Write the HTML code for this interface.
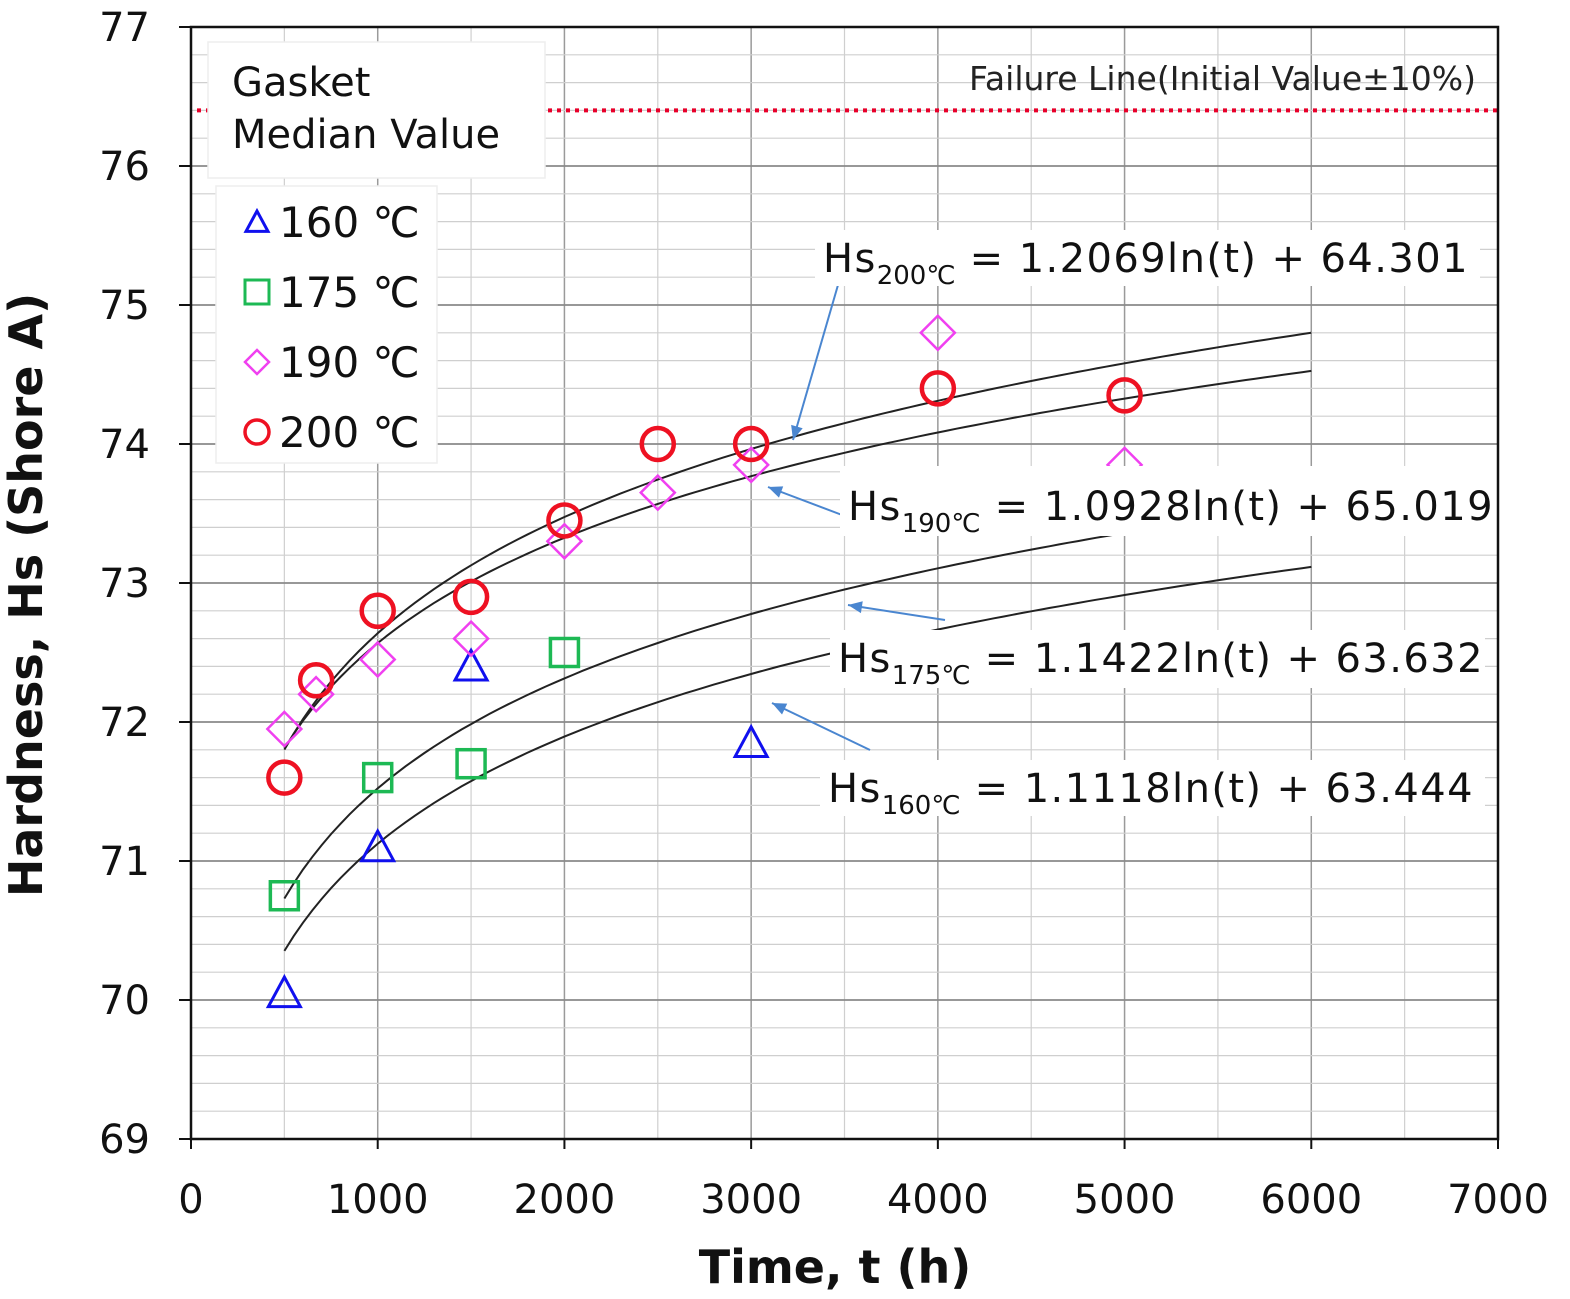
<!DOCTYPE html>
<html><head><meta charset="utf-8"><style>
html,body{margin:0;padding:0;background:#fff;}
svg{display:block;font-family:"DejaVu Sans","Liberation Sans",sans-serif;}
</style></head><body>
<svg id="chart" width="1570" height="1299" viewBox="0 0 1570 1299" xmlns="http://www.w3.org/2000/svg">
<g id="grid"></g>
<g id="curves"></g>
<g id="marks"></g>
<g id="overlay"></g>
<g id="axes"></g>
</svg>
<script>
const xTicks=[0,1000,2000,3000,4000,5000,6000,7000];
const yTicks=[69,70,71,72,73,74,75,76,77];
const t160=[500,1000,1500,3000];
const h160=[70.05,71.1,72.4,71.85];
const t175=[500,1000,1500,2000];
const h175=[70.75,71.6,71.7,72.5];
const t190=[500,670,1000,1500,2000,2500,3000,4000,5000];
const h190=[71.95,72.2,72.45,72.6,73.3,73.65,73.85,74.8,73.85];
const t200=[500,670,1000,1500,2000,2500,3000,4000,5000];
const h200=[71.6,72.3,72.8,72.9,73.45,74.0,74.0,74.4,74.35];
const fitA=[1.1118,1.1422,1.0928,1.2069];
const fitB=[63.444,63.632,65.019,64.301];
const failureValue=76.4;

const NS="http://www.w3.org/2000/svg";
const X0=191,X1=1498,Y0=1139,Y1=27;
const xs=v=>X0+(v-0)/(7000)*(X1-X0);
const ys=v=>Y0-(v-69)/8*(Y0-Y1);
function mk(tag,attrs,parent){const e=document.createElementNS(NS,tag);for(const k in attrs)e.setAttribute(k,attrs[k]);parent.appendChild(e);return e;}
const grid=document.getElementById('grid'),curves=document.getElementById('curves'),marks=document.getElementById('marks'),overlay=document.getElementById('overlay'),axes=document.getElementById('axes');

for(let v=500;v<7000;v+=500){const major=v%1000===0;const l=mk('line',{x1:xs(v),x2:xs(v),y1:Y1,y2:Y0,stroke:major?'#9a9a9a':'#cfcfcf','stroke-width':major?1.5:1.2},grid);
}
for(let i=1;i<40;i++){const v=69+i*0.2;const major=i%5===0;const l=mk('line',{x1:X0,x2:X1,y1:ys(v),y2:ys(v),stroke:major?'#8a8a8a':'#cfcfcf','stroke-width':major?1.8:1.2},grid);
}

const fl=mk('line',{x1:197,x2:X1,y1:ys(failureValue),y2:ys(failureValue),stroke:'#e8002a','stroke-width':4,'stroke-dasharray':'4 5'},grid);


for(let s=0;s<4;s++){let d='';for(let t=500;t<=6000;t+=50){const h=fitA[s]*Math.log(t)+fitB[s];d+=(t===500?'M':'L')+xs(t).toFixed(1)+','+ys(h).toFixed(1);}
const p=mk('path',{d:d,fill:'none',stroke:'#222','stroke-width':2},curves);
}

function tri(x,y,g){const r=16;return mk('polygon',{points:`${x},${y-r} ${x-r},${y+r*0.85} ${x+r},${y+r*0.85}`,fill:'none',stroke:'#1010ee','stroke-width':3},g);}
function sq(x,y,g){return mk('rect',{x:x-14,y:y-14,width:28,height:28,fill:'none',stroke:'#1db954','stroke-width':3.5},g);}
function dia(x,y,g){const r=17;return mk('polygon',{points:`${x},${y-r} ${x+r},${y} ${x},${y+r} ${x-r},${y}`,fill:'none',stroke:'#f040f0','stroke-width':2.5},g);}
function cir(x,y,g){return mk('circle',{cx:x,cy:y,r:16,fill:'none',stroke:'#ee1122','stroke-width':4.5},g);}
t160.forEach((t,i)=>{const e=tri(xs(t),ys(h160[i]),marks);});
t175.forEach((t,i)=>{const e=sq(xs(t),ys(h175[i]),marks);});
t190.forEach((t,i)=>{const e=dia(xs(t),ys(h190[i]),marks);});
t200.forEach((t,i)=>{const e=cir(xs(t),ys(h200[i]),marks);});

const arrows=[[838,285,793,440],[850,518,768,487],[945,620,848,605],[870,750,772,703]];
arrows.forEach(a=>{const l=mk('line',{x1:a[0],y1:a[1],x2:a[2],y2:a[3],stroke:'#4a86d0','stroke-width':2},overlay);

const ang=Math.atan2(a[3]-a[1],a[2]-a[0]);const L=14,W=6;
const bx=a[2]-L*Math.cos(ang),by=a[3]-L*Math.sin(ang);
const h=mk('polygon',{points:`${a[2]},${a[3]} ${bx-W*Math.sin(ang)},${by+W*Math.cos(ang)} ${bx+W*Math.sin(ang)},${by-W*Math.cos(ang)}`,fill:'#4a86d0'},overlay);
});
const labels=[['200',1.2069,64.301,815,230,665,56,42],['190',1.0928,65.019,840,466,665,70,54],['175',1.1422,63.632,830,630,655,58,42],['160',1.1118,63.444,820,760,665,56,42]];
labels.forEach(L=>{const b=mk('rect',{x:L[3],y:L[4],width:L[5],height:L[6],fill:'#fff'},overlay);
const t=mk('text',{x:L[3]+8,y:L[4]+L[7],'font-size':40,fill:'#111','letter-spacing':'1.4'},overlay);
t.innerHTML=`Hs<tspan font-size="26" dy="12" letter-spacing="0">${L[0]}℃</tspan><tspan dy="-12"> = ${L[1].toFixed(4)}ln(t) + ${L[2].toFixed(3)}</tspan>`;});
const ft=mk('text',{x:1476,y:90,'font-size':33,'text-anchor':'end',fill:'#222'},overlay);ft.textContent='Failure Line(Initial Value±10%)';


const lg1=mk('rect',{x:208,y:42,width:337,height:136,fill:'#fff',stroke:'#eee','stroke-width':1.5},overlay);
const lt1=mk('text',{x:232,y:96,'font-size':40,fill:'#111'},overlay);lt1.textContent='Gasket';
const lt2=mk('text',{x:232,y:148,'font-size':40,fill:'#111'},overlay);lt2.textContent='Median Value';
const lg2=mk('rect',{x:216,y:186,width:221,height:277,fill:'#fff',stroke:'#eee','stroke-width':1.5},overlay);
const lgNames=['160','175','190','200'];const lgF=[(x,y,g)=>{const r=11;return mk('polygon',{points:`${x},${y-r} ${x-r},${y+r*0.85} ${x+r},${y+r*0.85}`,fill:'none',stroke:'#1010ee','stroke-width':3},g);},
(x,y,g)=>mk('rect',{x:x-12,y:y-12,width:24,height:24,fill:'none',stroke:'#1db954','stroke-width':3},g),
(x,y,g)=>mk('polygon',{points:`${x},${y-12} ${x+12},${y} ${x},${y+12} ${x-12},${y}`,fill:'none',stroke:'#f040f0','stroke-width':2.5},g),
(x,y,g)=>mk('circle',{cx:x,cy:y,r:12,fill:'none',stroke:'#ee1122','stroke-width':3.5},g)];
lgNames.forEach((n,i)=>{const y=222+i*70;const m=lgF[i](257,y,overlay);
const t=mk('text',{x:279,y:y+15,'font-size':42,fill:'#111'},overlay);t.textContent=n+' ℃';});

const fr=mk('rect',{x:X0,y:Y1,width:X1-X0,height:Y0-Y1,fill:'none',stroke:'#111','stroke-width':2.5},axes);
xTicks.forEach(v=>{const tk=mk('line',{x1:xs(v),x2:xs(v),y1:Y0,y2:Y0+10,stroke:'#111','stroke-width':2},axes);
const t=mk('text',{x:xs(v),y:1213,'font-size':40,'text-anchor':'middle',fill:'#111'},axes);t.textContent=v;});
yTicks.forEach(v=>{const tk=mk('line',{x1:X0-12,x2:X0,y1:ys(v),y2:ys(v),stroke:'#111','stroke-width':2},axes);
const t=mk('text',{x:150,y:ys(v)+14,'font-size':40,'text-anchor':'end',fill:'#111'},axes);t.textContent=v;});
const xt=mk('text',{x:835,y:1283,'font-size':46,'font-weight':'bold','text-anchor':'middle',fill:'#111'},axes);xt.textContent='Time, t (h)';
const yt=mk('text',{x:0,y:0,'font-size':46,'font-weight':'bold','text-anchor':'middle',fill:'#111',transform:'translate(42,595) rotate(-90)'},axes);yt.textContent='Hardness, Hs (Shore A)';
</script>
</body></html>
